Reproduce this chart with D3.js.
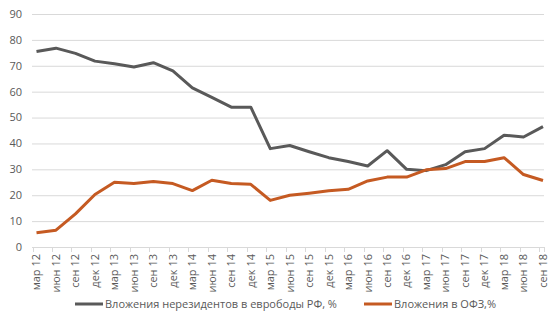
<!DOCTYPE html>
<html><head><meta charset="utf-8">
<script src="https://cdn.jsdelivr.net/npm/d3@7"></script>
<style>body{margin:0;background:#fff}svg{display:block}text{font-family:"Open Sans","Noto Sans",sans-serif;fill:#595959}</style>
</head><body><svg id="c" width="559" height="331"></svg>
<script>
const categories = ["мар 12","июн 12","сен 12","дек 12","мар 13","июн 13","сен 13","дек 13","мар 14","июн 14","сен 14","дек 14","мар 15","июн 15","сен 15","дек 15","мар 16","июн 16","сен 16","дек 16","мар 17","июн 17","сен 17","дек 17","мар 18","июн 18","сен 18"];
const eurobonds = [75.5,76.8,74.8,71.8,70.8,69.5,71.2,68,61.5,57.8,54,54,38,39.2,36.8,34.5,33,31.3,37.2,30,29.5,31.8,36.8,38,43.2,42.5,46.5];
const ofz = [5.5,6.5,12.8,20.3,25,24.5,25.3,24.5,21.8,25.8,24.5,24.2,18,20,20.8,21.7,22.3,25.5,27,27,29.8,30.3,33,33,34.5,28,25.7];
const yTicks = [0,10,20,30,40,50,60,70,80,90];
const seriesNames = ["Вложения нерезидентов в еврободы РФ, %","Вложения в ОФЗ,%"];
const colors = ["#595959","#c55a22"];

const svg = d3.select("#c");
const x = d3.scalePoint().domain(categories).range([36.5,543]);
const y = d3.scaleLinear().domain([0,90]).range([247,14]);
const left = 32, right = 544;
const step = x.step();

// grid
svg.append("g").selectAll("line").data(yTicks).join("line")
  .attr("x1",left).attr("x2",right).attr("y1",d=>y(d)+0.5).attr("y2",d=>y(d)+0.5)
  .attr("stroke","#d9d9d9").attr("stroke-width",1);
// y labels
svg.append("g").selectAll("text").data(yTicks).join("text")
  .attr("x",22).attr("y",d=>y(d)).attr("dy","0.35em").attr("text-anchor","end")
  .attr("font-size",11).text(d=>d);
// x tick marks
const tickXs = categories.map(c=>x(c)-4).concat([right]);
svg.append("g").selectAll("line").data(tickXs).join("line")
  .attr("x1",d=>Math.round(d)+0.5).attr("x2",d=>Math.round(d)+0.5).attr("y1",247).attr("y2",252)
  .attr("stroke","#d9d9d9");
// x labels
svg.append("g").selectAll("text").data(categories).join("text")
  .attr("transform",d=>`translate(${x(d)},254) rotate(-90)`)
  .attr("text-anchor","end").attr("dy","0.35em").attr("font-size",11).text(d=>d);

const line = d3.line().x((d,i)=>x(categories[i])).y(d=>y(d));
[eurobonds, ofz].forEach((s,k)=>{
  svg.append("path").datum(s).attr("d",line).attr("fill","none")
    .attr("stroke",colors[k]).attr("stroke-width",3).attr("stroke-linejoin","round");
});

// legend
const leg = [{x:75,name:seriesNames[0],c:colors[0]},{x:364,name:seriesNames[1],c:colors[1]}];
leg.forEach(l=>{
  svg.append("line").attr("x1",l.x).attr("x2",l.x+28).attr("y1",304).attr("y2",304)
    .attr("stroke",l.c).attr("stroke-width",3);
  svg.append("text").attr("x",l.x+30).attr("y",304).attr("dy","0.35em").attr("font-size",11).text(l.name);
});
</script></body></html>
